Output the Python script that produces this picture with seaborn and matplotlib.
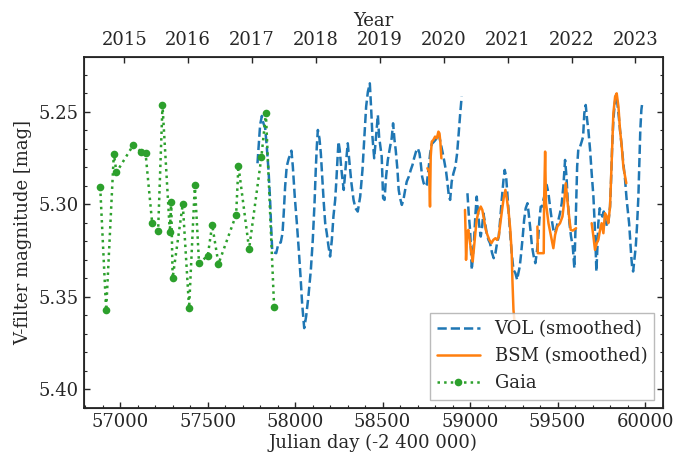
import numpy as np
import pandas as pd
import matplotlib
matplotlib.use("Agg")
import matplotlib.pyplot as plt
import seaborn as sns
from matplotlib.ticker import MultipleLocator, FormatStrFormatter
from matplotlib.lines import Line2D

# ---------------- data (JD - 2400000, V magnitude) ----------------
gaia_jd = [56886, 56920, 56964, 56979, 57074, 57120, 57145, 57183, 57217, 57242,
           57284, 57292, 57300, 57358, 57394, 57427, 57451, 57501, 57526, 57562,
           57663, 57676, 57737, 57807, 57833, 57880]
gaia_mag = [5.2907, 5.3574, 5.2727, 5.2828, 5.2682, 5.2716, 5.2722, 5.3102, 5.3145, 5.2465,
            5.3150, 5.2988, 5.3400, 5.2999, 5.3561, 5.2895, 5.3320, 5.3278, 5.3112, 5.3323,
            5.3057, 5.2792, 5.3242, 5.2747, 5.2509, 5.3556]

vol1_jd = [57785, 57800, 57810, 57819, 57829, 57838, 57848, 57857, 57863, 57869, 57880, 57892,
           57905, 57918, 57928, 57935, 57943, 57952, 57964, 57972, 57979, 57987, 57998, 58010,
           58021, 58031, 58040, 58052, 58063, 58076, 58090, 58101, 58111, 58118, 58124, 58130,
           58139, 58147, 58156, 58164, 58172, 58181, 58191, 58200, 58210, 58219, 58229, 58236,
           58242, 58248, 58255, 58263, 58271, 58278, 58286, 58294, 58301, 58311, 58322, 58334,
           58345, 58358, 58372, 58385, 58396, 58406, 58416, 58427, 58435, 58442, 58452, 58461,
           58473, 58480, 58495, 58503, 58511, 58520, 58530, 58543, 58552, 58560, 58568, 58575,
           58585, 58592, 58600, 58610, 58619, 58629, 58638, 58650, 58661, 58671, 58680, 58691,
           58701, 58711, 58718, 58726, 58735, 58745, 58752, 58762, 58772, 58781, 58794, 58810,
           58821, 58832, 58842, 58853, 58863, 58871, 58878, 58886, 58895, 58905, 58916, 58926,
           58935, 58943, 58952]
vol1_mag = [5.2779, 5.2572, 5.2523, 5.2563, 5.2590, 5.2689, 5.2815, 5.2977, 5.3121, 5.3247, 5.3261, 5.3265,
            5.3211, 5.3207, 5.3157, 5.3049, 5.2905, 5.2797, 5.2752, 5.2734, 5.2711, 5.2797, 5.2959, 5.3103,
            5.3247, 5.3391, 5.3535, 5.3670, 5.3607, 5.3499, 5.3355, 5.3193, 5.2995, 5.2815, 5.2689, 5.2599,
            5.2644, 5.2725, 5.2869, 5.2995, 5.3103, 5.3157, 5.3229, 5.3283, 5.3193, 5.3067, 5.2977, 5.2869,
            5.2761, 5.2662, 5.2707, 5.2797, 5.2869, 5.2923, 5.2833, 5.2743, 5.2671, 5.2779, 5.2887, 5.2977,
            5.3022, 5.3040, 5.2959, 5.2815, 5.2635, 5.2473, 5.2392, 5.2347, 5.2491, 5.2635, 5.2752, 5.2653,
            5.2518, 5.2635, 5.2743, 5.2968, 5.2977, 5.2851, 5.2761, 5.2689, 5.2644, 5.2563, 5.2653, 5.2707,
            5.2815, 5.2923, 5.2968, 5.3004, 5.2977, 5.2923, 5.2878, 5.2851, 5.2815, 5.2788, 5.2752, 5.2716,
            5.2698, 5.2725, 5.2779, 5.2851, 5.2887, 5.2905, 5.2896, 5.2815, 5.2725, 5.2675, 5.2662, 5.2644,
            5.2620, 5.2671, 5.2716, 5.2770, 5.2824, 5.2887, 5.2950, 5.2977, 5.2878, 5.2833, 5.2797, 5.2725,
            5.2617, 5.2518, 5.2419]

vol2_jd = [58985, 58992, 59000, 59010, 59017, 59023, 59031, 59038, 59046, 59053, 59061, 59069,
           59076, 59086, 59095, 59105, 59114, 59126, 59135, 59145, 59154, 59164, 59172, 59181,
           59191, 59198, 59206, 59213, 59221, 59229, 59238, 59248, 59259, 59269, 59276, 59284,
           59292, 59301, 59309, 59318, 59328, 59335, 59345, 59354, 59364, 59373, 59381, 59389,
           59396, 59404, 59412, 59419, 59429, 59438, 59448, 59457, 59467, 59476, 59486, 59495,
           59505, 59514, 59524, 59533, 59543, 59551, 59558, 59568, 59577, 59587, 59596, 59604,
           59612, 59619, 59629, 59638, 59646, 59653, 59661, 59669, 59676, 59686, 59695, 59705,
           59712, 59718, 59722, 59728, 59733, 59741, 59749, 59756, 59764, 59773, 59783, 59792,
           59800, 59806, 59812, 59819, 59827, 59834, 59842, 59850, 59857, 59867, 59876, 59886,
           59895, 59903, 59909, 59914, 59920, 59926, 59932, 59939, 59947, 59954, 59962, 59968,
           59973, 59979, 59985]
vol2_mag = [5.2941, 5.3049, 5.3139, 5.3355, 5.3265, 5.3193, 5.3049, 5.2959, 5.3049, 5.3121, 5.3175, 5.3121,
            5.3049, 5.3103, 5.3157, 5.3193, 5.3211, 5.3265, 5.3292, 5.3265, 5.3211, 5.3175, 5.3085, 5.2977,
            5.2869, 5.2815, 5.2851, 5.2941, 5.3049, 5.3157, 5.3265, 5.3355, 5.3373, 5.3409, 5.3373, 5.3337,
            5.3265, 5.3175, 5.3085, 5.3022, 5.2995, 5.3049, 5.3139, 5.3229, 5.3283, 5.3319, 5.3265, 5.3193,
            5.3085, 5.3013, 5.3013, 5.2977, 5.2941, 5.2896, 5.2941, 5.3013, 5.3085, 5.3139, 5.3157, 5.3121,
            5.3085, 5.3049, 5.2995, 5.2905, 5.2761, 5.2851, 5.2977, 5.3103, 5.3175, 5.3229, 5.3346, 5.3085,
            5.2797, 5.2698, 5.2689, 5.2662, 5.2635, 5.2509, 5.2464, 5.2545, 5.2599, 5.2707, 5.2833, 5.2959,
            5.3103, 5.3247, 5.3364, 5.3229, 5.3103, 5.3022, 5.3049, 5.3067, 5.3040, 5.3085, 5.3121, 5.3085,
            5.3013, 5.2869, 5.2689, 5.2545, 5.2455, 5.2410, 5.2455, 5.2527, 5.2599, 5.2689, 5.2779, 5.2869,
            5.2977, 5.3049, 5.3103, 5.3175, 5.3265, 5.3337, 5.3364, 5.3301, 5.3229, 5.3121, 5.2959, 5.2761,
            5.2599, 5.2491, 5.2446]

bsm1_jd = [58756, 58766, 58771, 58775, 58781, 58790, 58800, 58810, 58819, 58825, 58830, 58836]
bsm1_mag = [5.2806, 5.2824, 5.3013, 5.2743, 5.2662, 5.2653, 5.2635, 5.2644, 5.2608, 5.2617, 5.2662, 5.2752]

bsm2_jd = [58971, 58975, 58977, 58983, 58990, 59000, 59008, 59015, 59023, 59030, 59038, 59048,
           59061, 59070, 59080, 59090, 59099, 59110, 59122, 59133, 59145, 59154, 59164, 59173,
           59183, 59192, 59202, 59211, 59221, 59230, 59238, 59242, 59248, 59253]
bsm2_mag = [5.3031, 5.3175, 5.3301, 5.3157, 5.3139, 5.3211, 5.3265, 5.3310, 5.3229, 5.3157, 5.3085, 5.3040,
            5.3013, 5.3031, 5.3085, 5.3139, 5.3166, 5.3193, 5.3211, 5.3193, 5.3184, 5.3193, 5.3175, 5.3103,
            5.3031, 5.2968, 5.2923, 5.2977, 5.3049, 5.3139, 5.3265, 5.3409, 5.3571, 5.3625]

bsm3_jd = [59385, 59387, 59421, 59423, 59429, 59434, 59448, 59463, 59476, 59486, 59499, 59514,
           59528, 59537, 59547, 59556, 59566, 59575, 59587, 59606]
bsm3_mag = [5.3121, 5.3265, 5.3265, 5.2995, 5.2716, 5.2995, 5.3103, 5.3175, 5.3238, 5.3166, 5.3121, 5.3103,
            5.3067, 5.2995, 5.2887, 5.2977, 5.3067, 5.3139, 5.3143, 5.3130]

bsm4_jd = [59695, 59705, 59714, 59724, 59733, 59743, 59752, 59762, 59771, 59781, 59790, 59800,
           59809, 59819, 59829, 59838, 59848, 59857, 59867, 59876, 59886, 59893]
bsm4_mag = [5.3103, 5.3175, 5.3247, 5.3211, 5.3193, 5.3139, 5.3103, 5.3157, 5.3049, 5.3067, 5.3103, 5.3013,
            5.2779, 5.2509, 5.2419, 5.2401, 5.2473, 5.2599, 5.2689, 5.2797, 5.2851, 5.2887]

years = [2015, 2016, 2017, 2018, 2019, 2020, 2021, 2022, 2023]

# ---------------- tables ----------------
def segs(pairs):
    frames = []
    for i, (x, y) in enumerate(pairs):
        frames.append(pd.DataFrame({"jd": x, "mag": y, "seg": i}))
    return pd.concat(frames, ignore_index=True)

vol_df = segs([(vol1_jd, vol1_mag), (vol2_jd, vol2_mag)])
bsm_df = segs([(bsm1_jd, bsm1_mag), (bsm2_jd, bsm2_mag), (bsm3_jd, bsm3_mag), (bsm4_jd, bsm4_mag)])
gaia_df = pd.DataFrame({"jd": gaia_jd, "mag": gaia_mag})

# ---------------- style ----------------
sns.set_style("ticks")
plt.rcParams["font.family"] = ["DejaVu Serif"]
plt.rcParams["mathtext.fontset"] = "dejavuserif"
FS = 13
plt.rcParams["font.size"] = FS

c_vol, c_bsm, c_gaia = "#1f77b4", "#ff7f0e", "#2ca02c"

fig = plt.figure(figsize=(6.91, 4.55), dpi=100)
ax = fig.add_axes([0.1212, 0.104, 0.8376, 0.7714])

sns.lineplot(data=vol_df, x="jd", y="mag", units="seg", estimator=None, sort=False,
             color=c_vol, linestyle="--", linewidth=1.8, ax=ax, legend=False)
sns.lineplot(data=bsm_df, x="jd", y="mag", units="seg", estimator=None, sort=False,
             color=c_bsm, linestyle="-", linewidth=1.8, ax=ax, legend=False)
sns.lineplot(data=gaia_df, x="jd", y="mag", estimator=None, sort=False,
             color=c_gaia, linestyle=":", linewidth=1.8, marker="o", markersize=5.5,
             markeredgewidth=0, ax=ax, legend=False)

ax.set_xlim(56792, 60100)
ax.set_ylim(5.41, 5.2203)

ax.xaxis.set_major_locator(MultipleLocator(500))
ax.xaxis.set_minor_locator(MultipleLocator(100))
ax.yaxis.set_major_locator(MultipleLocator(0.05))
ax.yaxis.set_minor_locator(MultipleLocator(0.01))
ax.yaxis.set_major_formatter(FormatStrFormatter("%.2f"))
ax.tick_params(which="both", direction="in", top=False, right=True, labelsize=FS)
ax.tick_params(which="major", length=4.5, width=1)
ax.tick_params(which="minor", length=2.5, width=0.8)
for s in ax.spines.values():
    s.set_linewidth(1.3)

ax.set_xlabel("Julian day (-2 400 000)", fontsize=FS, labelpad=2)
ax.set_ylabel("V-filter magnitude [mag]", fontsize=FS, labelpad=5)

# top axis: calendar years
year_jd = [pd.Timestamp(year=y, month=1, day=1).to_julian_date() - 2400000 for y in years]
ax2 = ax.twiny()
ax2.set_xlim(ax.get_xlim())
ax2.set_xticks(year_jd)
ax2.set_xticklabels([str(y) for y in years])
ax2.tick_params(which="major", direction="in", length=4.5, width=1, labelsize=FS, pad=5.2)
ax2.xaxis.set_minor_locator(plt.NullLocator())
ax2.set_xlabel("Year", fontsize=FS, labelpad=4.2)

handles = [
    Line2D([], [], color=c_vol, linestyle="--", linewidth=1.8),
    Line2D([], [], color=c_bsm, linestyle="-", linewidth=1.8),
    Line2D([], [], color=c_gaia, linestyle=":", linewidth=1.8, marker="o", markersize=5.5,
           markeredgewidth=0),
]
leg = ax.legend(handles, ["VOL (smoothed)", "BSM (smoothed)", "Gaia"], loc="lower right",
                fontsize=FS, fancybox=False, edgecolor="#aaaaaa", framealpha=0.8,
                handlelength=2.4, borderaxespad=0.45)

fig.savefig("out.png", dpi=100)
